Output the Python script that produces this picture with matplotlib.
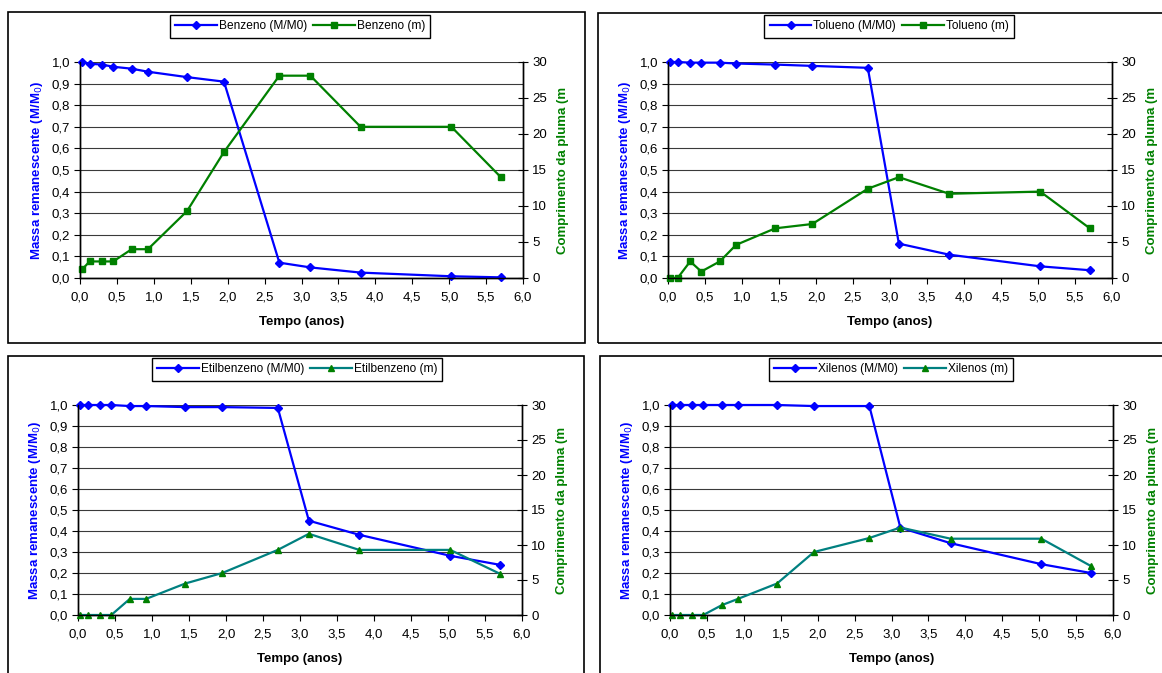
import matplotlib
matplotlib.use('Agg')
import matplotlib.pyplot as plt
from matplotlib.patches import Rectangle
from matplotlib.ticker import FuncFormatter, MultipleLocator

plt.rcParams['font.family'] = ['Liberation Sans', 'DejaVu Sans']

# tempo (anos)
tempo = [0.03, 0.13, 0.30, 0.45, 0.70, 0.92, 1.45, 1.95, 2.70, 3.12, 3.80, 5.03, 5.70]

# massa remanescente (M/M0)
benzeno_mm0 = [1.0, 0.992, 0.988, 0.978, 0.969, 0.955, 0.930, 0.909, 0.071, 0.049, 0.025, 0.008, 0.003]
tolueno_mm0 = [1.0, 1.0, 0.997, 0.997, 0.997, 0.993, 0.988, 0.982, 0.973, 0.159, 0.108, 0.054, 0.036]
etilbenzeno_mm0 = [1.0, 1.0, 1.0, 1.0, 0.995, 0.995, 0.990, 0.990, 0.986, 0.449, 0.382, 0.282, 0.239]
xilenos_mm0 = [1.0, 1.0, 1.0, 1.0, 1.0, 1.0, 1.0, 0.995, 0.995, 0.416, 0.342, 0.242, 0.200]

# comprimento da pluma (m)
benzeno_m = [1.2, 2.3, 2.3, 2.3, 4.0, 4.0, 9.3, 17.5, 28.1, 28.1, 21.0, 21.0, 14.0]
tolueno_m = [0.0, 0.0, 2.3, 0.9, 2.3, 4.6, 6.9, 7.5, 12.4, 14.0, 11.7, 12.0, 6.9]
etilbenzeno_m = [0.0, 0.0, 0.0, 0.0, 2.3, 2.3, 4.5, 6.0, 9.3, 11.6, 9.3, 9.3, 5.9]
xilenos_m = [0.0, 0.0, 0.0, 0.0, 1.4, 2.3, 4.5, 9.0, 11.0, 12.5, 10.9, 10.9, 7.0]

W, H = 1162, 673
fig = plt.figure(figsize=(W / 100, H / 100), dpi=100)


def px_box(x0, y0, x1, y1):
    # pixel box (top-left origin) -> figure fraction [left, bottom, width, height]
    return [x0 / W, 1 - y1 / H, (x1 - x0) / W, (y1 - y0) / H]


comma = FuncFormatter(lambda v, p: f'{v:.1f}'.replace('.', ','))

panels = [
    ('Benzeno', benzeno_mm0, benzeno_m, 'green', (80, 62, 523, 278), (8, 12, 585, 343), (300, 15)),
    ('Tolueno', tolueno_mm0, tolueno_m, 'green', (668, 62, 1112, 278), (598, 13, 1180, 343), (889, 15)),
    ('Etilbenzeno', etilbenzeno_mm0, etilbenzeno_m, 'teal', (78, 405, 522, 615), (8, 356, 584, 690), (297, 358)),
    ('Xilenos', xilenos_mm0, xilenos_m, 'teal', (670, 405, 1113, 615), (600, 356, 1180, 690), (891, 358)),
]

FS = 9.5

for name, mm0, m, mcolor, axbox, frame, legpos in panels:
    fr = px_box(*frame)
    fig.patches.append(Rectangle((fr[0], fr[1]), fr[2], fr[3], transform=fig.transFigure,
                                 fill=False, edgecolor='black', linewidth=1.2))

    ax = fig.add_axes(px_box(*axbox))
    ax2 = ax.twinx()

    l1, = ax.plot(tempo, mm0, color='#0000FF', marker='D', markersize=4, linewidth=1.6,
                  label=f'{name} (M/M0)', zorder=5, clip_on=False)
    if mcolor == 'green':
        l2, = ax2.plot(tempo, m, color='#008000', marker='s', markersize=4.5, linewidth=1.6,
                       label=f'{name} (m)', clip_on=False)
    else:
        l2, = ax2.plot(tempo, m, color='#008080', marker='^', markersize=5, linewidth=1.6,
                       markerfacecolor='#008000', markeredgecolor='#008000',
                       label=f'{name} (m)', clip_on=False)

    ax.set_xlim(0, 6)
    ax.set_ylim(0, 1)
    ax2.set_ylim(0, 30)
    ax.xaxis.set_major_locator(MultipleLocator(0.5))
    ax.yaxis.set_major_locator(MultipleLocator(0.1))
    ax2.yaxis.set_major_locator(MultipleLocator(5))
    ax.xaxis.set_major_formatter(comma)
    ax.yaxis.set_major_formatter(comma)

    ax.grid(axis='y', color='#3a3a3a', linewidth=0.8)
    ax.set_axisbelow(True)
    for a in (ax, ax2):
        a.spines['top'].set_visible(False)
        for s in ('left', 'right', 'bottom'):
            a.spines[s].set_linewidth(1.0)
    ax.tick_params(axis='both', labelsize=FS, length=4, width=0.8, pad=3)
    ax.tick_params(axis='x', pad=6)
    ax2.tick_params(axis='y', labelsize=FS, length=7, width=0.8, direction='inout', pad=3)

    ax.set_xlabel('Tempo (anos)', fontsize=FS, fontweight='bold', labelpad=9)
    ax.set_ylabel('Massa remanescente (M/M$_0$)', fontsize=FS, fontweight='bold',
                  color='#0000FF', labelpad=5)
    ax2.set_ylabel('Comprimento da pluma (m', fontsize=FS, fontweight='bold',
                   color='#008000', labelpad=7)

    ax2.legend(handles=[l1, l2], loc='upper center',
               bbox_to_anchor=(legpos[0] / W, 1 - legpos[1] / H),
               bbox_transform=fig.transFigure, ncol=2, fontsize=8.6,
               frameon=True, fancybox=False, edgecolor='black', framealpha=1,
               handlelength=3.5, handletextpad=0.15, columnspacing=0.5,
               borderpad=0.45, borderaxespad=0)

fig.savefig('out.png', dpi=100)
